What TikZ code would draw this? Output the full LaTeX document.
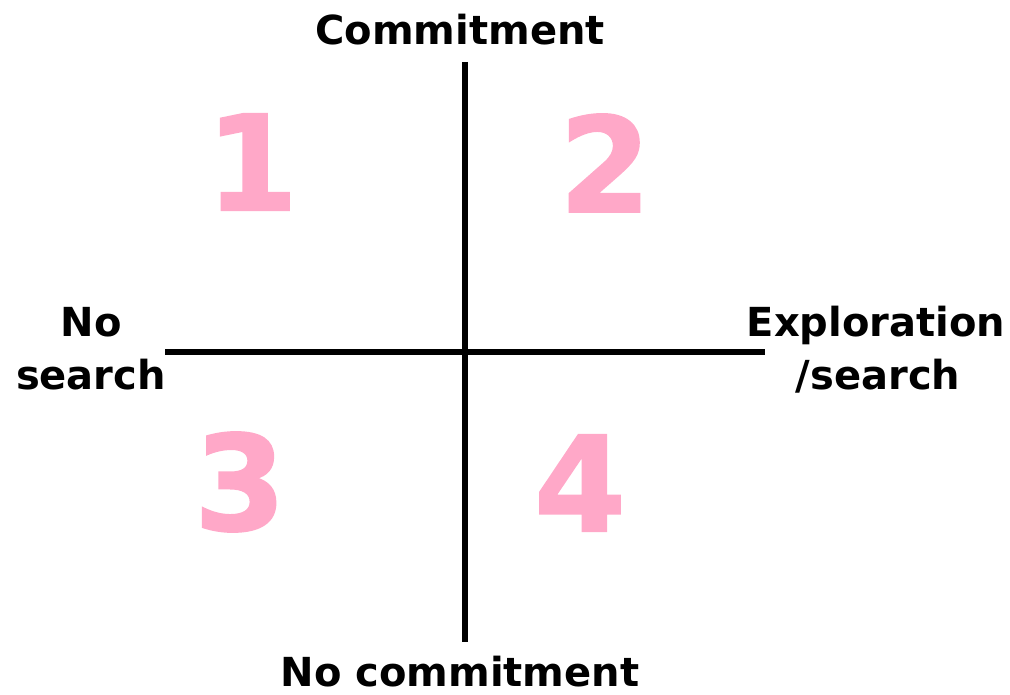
\documentclass[tikz,border=0pt]{standalone}
\usepackage{fontspec}
\setmainfont{DejaVu Sans}
\newfontfamily\heavydigits{DejaVu Sans Bold}[FakeBold=1.5]
\definecolor{qpink}{HTML}{FFA8C8}
\begin{document}
\begin{tikzpicture}[x=1pt,y=-1pt,
  axis/.style={line width=5.5pt,black},
  lbl/.style={font=\bfseries\fontsize{40}{46}\selectfont,anchor=base,inner sep=0pt},
  num/.style={font=\heavydigits\fontsize{132}{134}\selectfont,text=qpink,inner sep=0pt}]
\useasboundingbox (0,0) rectangle (1010,695);
\coordinate (top) at (465,62);
\coordinate (bot) at (465,642);
\coordinate (lft) at (165,352);
\coordinate (rgt) at (765,352);
\draw[axis] (top) -- (bot);
\draw[axis] (lft) -- (rgt);
\node[lbl] (commit) at (460,45) {Commitment};
\node[lbl] (nocommit) at (460,686) {No commitment};
\node[lbl] (no) at (91,337) {No};
\node[lbl] (search) at (91,389) {search};
\node[lbl] (explor) at (876,337) {Exploration};
\node[lbl] (slsearch) at (878,389) {/search};
\node[num] (q1) at (252,162) {1};
\node[num] (q2) at (605,163) {2};
\node[num] (q3) at (240,482) {3};
\node[num] (q4) at (580,483) {4};
\end{tikzpicture}
\end{document}
